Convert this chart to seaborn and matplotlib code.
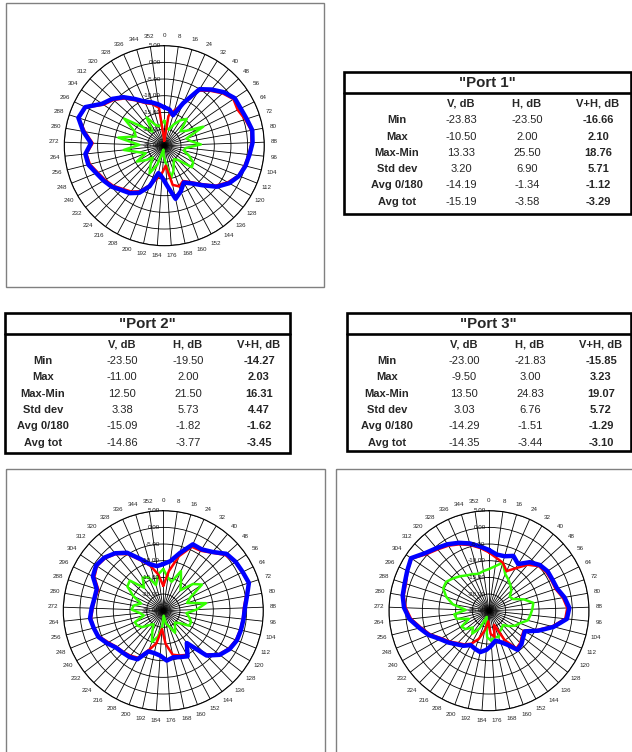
import numpy as np
import matplotlib
matplotlib.use("Agg")
import matplotlib.pyplot as plt
from matplotlib.patches import Rectangle
from matplotlib.transforms import offset_copy
import seaborn as sns

# angle of each measurement (deg), radial grid (dB)
angles_deg = np.arange(0, 360, 8)
ring_values = [-25, -20, -15, -10, -5, 0, 5]

# Port 1 patterns, dB, one value per 8 deg
p1_v = [-17.5, -19.5, -20, -18, -16, -14.5, -18.5, -17, -12, -18, -17, -14, -18.5, -19, -17,
        -15, -14.5, -19, -20, -19, -17, -15.2, -20, -22, -23.8, -19, -15.6, -18, -20, -18,
        -15.5, -19, -17, -12.8, -17.5, -11, -16, -15, -10.5, -17, -19.5, -15, -18, -19, -18.5]
p1_h = [-23.5, -16, -14, -11.5, -5.5, -3.5, -1.5, 0, -0.5, 0.5, 1.5, 1.2, 0.5, -0.2, -1,
        -3, -5.5, -9, -11.5, -13, -12, -13, -19, -17, -15, -12.5, -9.5, -8, -7, -5.5,
        -4.5, -3.5, -2, -1.5, -3.5, -0.8, 2, 1.2, -3, -4.5, -6.5, -9, -11, -12, -13.5]
p1_vh = [-13.5, -14, -15.5, -11, -5, -3, -1, 0.5, 0.5, 1, 1.8, 1.5, 0.7, 0.1, -0.8,
         -2.5, -5, -8.5, -11, -12.5, -10.5, -8.7, -13, -15.5, -16.6, -12, -9, -7.4, -6.5, -5,
         -4, -3, -1.5, -1.2, -3, -0.3, 2.1, 1.4, -2.5, -4, -6, -8.5, -10.5, -11.5, -12.5]

# Port 2
p2_v = [-12.5, -15, -16, -12, -15, -17, -13, -11, -16, -17.5, -12, -15, -18, -17, -16,
        -16, -19, -20, -19, -17.5, -20, -21, -23.5, -20, -17, -15, -18, -20, -19, -17,
        -16, -15.8, -19, -18, -15.5, -16, -18, -15, -12, -11.5, -16, -13.3, -14, -17, -14]
p2_h = [-17.5, -13, -8, -4, -3.8, -2.3, 0, 1, 1.3, 2, 0.2, -0.8, -1, -1.2, -1.5,
        -2.3, -3.8, -6.8, -12.5, -10, -10.7, -11.5, -15, -19.5, -15, -12.5, -9, -8.3, -7.8, -7.3,
        -6, -4.3, -3.5, -3.2, -3.8, -4.2, -4.5, -2, -1, -1.5, -2.8, -5, -8.5, -11, -14]
p2_vh = [-11, -10, -7, -3.2, -3.3, -2, 0.5, 1.2, 1.5, 2, 0.5, -0.5, -0.8, -1, -1.2,
         -2, -3.5, -6.3, -13, -9.5, -10.2, -10.7, -10, -11.5, -12, -12, -8.5, -7.8, -7.5, -7,
         -5.5, -4, -3.5, -2.9, -3.5, -4, -4, -1.5, -0.7, -1.2, -2.5, -4.5, -8, -10.5, -11.5]

# Port 3
p3_v = [-12.5, -11.5, -10, -13, -14, -15, -16, -17.5, -17, -14, -11.5, -12, -12.5, -13, -15,
        -16, -17.5, -19, -18.5, -18, -16.5, -17, -16, -17, -21, -23, -19, -16.5, -18, -16,
        -15.5, -18.5, -15, -14.5, -18, -14, -11.5, -9.7, -9.5, -10.5, -11.5, -12.5, -13, -13.5, -13]
p3_h = [-7.5, -9, -10, -12, -10, -7, -5, -4.3, -4.2, -4, -2.5, -1.5, -2, -5.5, -9.5,
        -13, -12.5, -11.5, -11, -15, -20.5, -17, -18, -21.8, -19, -16, -13.8, -12.5, -11.5, -10,
        -8.5, -6, -4, -1.5, 0, 1, 1.2, 2.2, 3, 0.3, -1, -2, -3.2, -4.5, -6]
p3_vh = [-6.8, -8, -8, -7, -8.5, -6, -4.5, -3.8, -3.8, -3.5, -2, -0.9, -1.5, -5, -9,
         -12.6, -12, -11, -10.5, -13.5, -15, -15.8, -14.5, -13.2, -12.3, -12.8, -13.3, -12, -11, -9.5,
         -8, -5.5, -3.5, -1, 0.5, 1.3, 1.6, 2.3, 3.2, 0.8, -0.5, -1.5, -2.7, -4, -5.5]

# summary tables
row_names = ["Min", "Max", "Max-Min", "Std dev", "Avg 0/180", "Avg tot"]
col_names = ["V, dB", "H, dB", "V+H, dB"]
t1_v = [-23.83, -10.50, 13.33, 3.20, -14.19, -15.19]
t1_h = [-23.50, 2.00, 25.50, 6.90, -1.34, -3.58]
t1_vh = [-16.66, 2.10, 18.76, 5.71, -1.12, -3.29]
t2_v = [-23.50, -11.00, 12.50, 3.38, -15.09, -14.86]
t2_h = [-19.50, 2.00, 21.50, 5.73, -1.82, -3.77]
t2_vh = [-14.27, 2.03, 16.31, 4.47, -1.62, -3.45]
t3_v = [-23.00, -9.50, 13.50, 3.03, -14.29, -14.35]
t3_h = [-21.83, 3.00, 24.83, 6.76, -1.51, -3.44]
t3_vh = [-15.85, 3.23, 19.07, 5.72, -1.29, -3.10]

sns.set_style("white")
plt.rcParams["font.family"] = ["Liberation Sans", "DejaVu Sans"]

W, H = 632, 752
fig = plt.figure(figsize=(W / 100, H / 100), dpi=100)

# full-figure layer in pixel coords for frames and tables
canvas = fig.add_axes([0, 0, 1, 1])
canvas.set_xlim(0, W)
canvas.set_ylim(H, 0)
canvas.axis("off")


def polar_chart(cx, cy, v, h, vh):
    rad = 100
    ax = fig.add_axes([(cx - rad) / W, 1 - (cy + rad) / H, 2 * rad / W, 2 * rad / H],
                      projection="polar")
    ax.set_facecolor("none")
    theta = np.deg2rad(np.append(angles_deg, 360))
    for vals, color, lw in [(v, "#33ff00", 1.8), (h, "#ff0000", 1.8), (vh, "#0000ff", 3.2)]:
        r = np.append(vals, vals[0])
        sns.lineplot(x=theta, y=r, ax=ax, color=color, linewidth=lw,
                     sort=False, estimator=None)
    ax.set_theta_zero_location("N")
    ax.set_theta_direction(-1)
    ax.set_ylim(ring_values[0], ring_values[-1])
    ax.set_xticks(np.deg2rad(angles_deg))
    ax.set_xticklabels([str(a) for a in angles_deg], fontsize=4.5)
    ax.set_yticks(ring_values[1:])
    ax.set_yticklabels([])
    ax.grid(True, color="black", linewidth=0.6)
    ax.spines["polar"].set_color("black")
    ax.spines["polar"].set_linewidth(0.8)
    ax.tick_params(axis="x", pad=0.5, length=0)
    ax.tick_params(axis="y", length=0)
    ax.set_xlabel("")
    ax.set_ylabel("")
    trans = offset_copy(ax.transData, fig=fig, x=-2.5, y=0, units="points")
    for val in ring_values:
        ax.text(0, val, f"{val:.2f}", transform=trans, ha="right", va="center",
                fontsize=4.5, color="#111111")
    return ax


def draw_table(x0, y0, x1, y1, title, label_dx, v, h, vh):
    canvas.add_patch(Rectangle((x0, y0), x1 - x0, y1 - y0, fill=False,
                               edgecolor="black", linewidth=1.9))
    canvas.plot([x0, x1], [y0 + 21.5, y0 + 21.5], color="black", linewidth=1.9)
    canvas.text((x0 + x1) / 2, y0 + 11.5, f'"{title}"', ha="center", va="center",
                fontsize=10.8, fontweight="bold")
    col_x = [x0 + 117, x0 + 183, x0 + 254]
    for cxp, name in zip(col_x, col_names):
        canvas.text(cxp, y0 + 31.5, name, ha="center", va="center", fontsize=8,
                    fontweight="bold")
    for i, name in enumerate(row_names):
        y = y0 + 48.5 + i * 16.3
        canvas.text(x0 + label_dx, y, name, ha="center", va="center", fontsize=8,
                    fontweight="bold")
        for cxp, vals, wt in zip(col_x, [v, h, vh], ["normal", "normal", "bold"]):
            canvas.text(cxp, y, f"{vals[i]:.2f}", ha="center", va="center",
                        fontsize=8, fontweight=wt)


# chart frames
frame_kw = dict(fill=False, edgecolor="#808080", linewidth=1.0)
canvas.add_patch(Rectangle((5.7, 3.3), 318.5, 283.7, **frame_kw))
canvas.add_patch(Rectangle((5.7, 468.5), 319.3, 300, **frame_kw))
canvas.add_patch(Rectangle((336, 468.5), 320, 300, **frame_kw))

polar_chart(164.3, 145.7, p1_v, p1_h, p1_vh)
polar_chart(163.3, 610.7, p2_v, p2_h, p2_vh)
polar_chart(489.0, 610.7, p3_v, p3_h, p3_vh)

draw_table(344, 71.7, 630.5, 213.5, "Port 1", 53, t1_v, t1_h, t1_vh)
draw_table(5, 312.7, 290, 453, "Port 2", 38, t2_v, t2_h, t2_vh)
draw_table(347, 312.7, 630.5, 451, "Port 3", 40, t3_v, t3_h, t3_vh)

fig.savefig("out.png", dpi=100)
